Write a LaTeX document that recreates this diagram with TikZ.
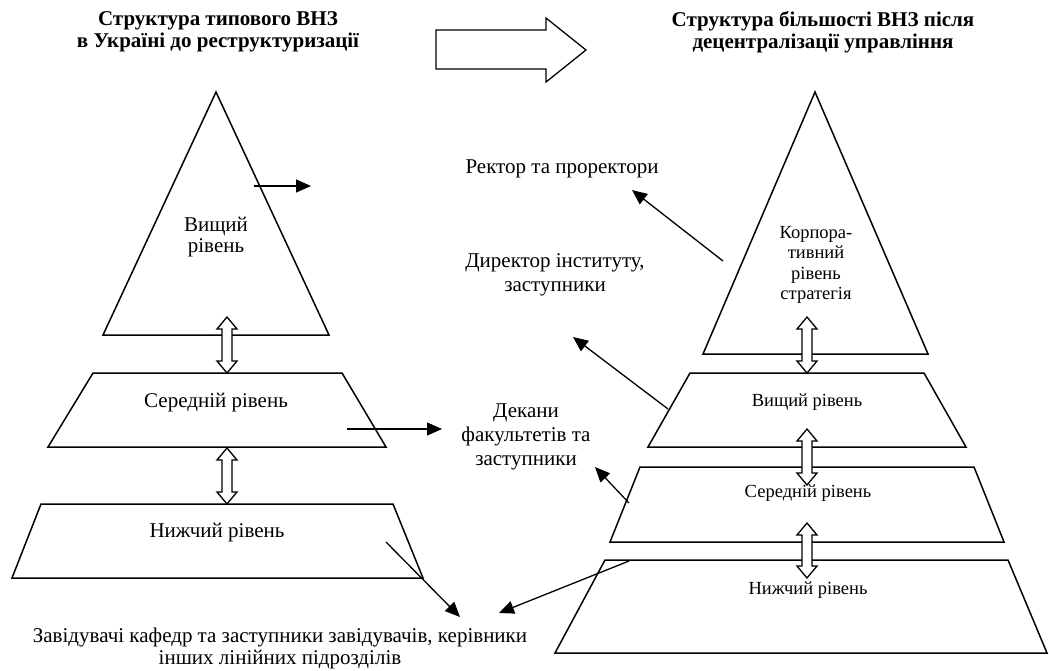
\documentclass[tikz,border=0pt]{standalone}
\usepackage{fontspec}
\setmainfont{Liberation Serif}
\usetikzlibrary{arrows.meta}
\newcommand\dblarr[3]{%
  \draw[blk] (#1,#2) -- (#1+10,#2+12) -- (#1+5,#2+12) -- (#1+5,#3-12) -- (#1+10,#3-12)
    -- (#1,#3) -- (#1-10,#3-12) -- (#1-5,#3-12) -- (#1-5,#2+12) -- (#1-10,#2+12) -- cycle;}
\begin{document}
\begin{tikzpicture}[x=1pt,y=-1pt,
  lvl/.style={draw, line width=1.5pt, line join=miter},
  conn/.style={line width=1.3pt, -{Triangle[length=15pt,width=13pt]}},
  blk/.style={draw, fill=white, line width=1.3pt, line join=miter},
  lbl/.style={font=\fontsize{21}{24}\selectfont, align=center, inner sep=0pt},
  rlbl/.style={font=\fontsize{18.5}{20.3}\selectfont, align=center, inner sep=0pt},
  ttl/.style={font=\bfseries\fontsize{21}{22}\selectfont, align=center, inner sep=0pt}]
\useasboundingbox (0,0) rectangle (1049,670);

% titles and big arrow
\node[ttl] (tl) at (218,32) {Структура типового ВНЗ\\в Україні до реструктуризації};
\node[ttl] (tr) at (823,32) {Структура більшості ВНЗ після\\децентралізації управління};
\draw[blk] (436,30) -- (546,30) -- (546,18) -- (586,50) -- (546,82) -- (546,69) -- (436,69) -- cycle;

% left pyramid
\draw[lvl] (216,92) -- (329,335) -- (103,335) -- cycle;
\draw[lvl] (93,373) -- (342,373) -- (386,447) -- (48,447) -- cycle;
\draw[lvl] (41,504) -- (393,504) -- (423,578) -- (12,578) -- cycle;
\node[lbl, font=\fontsize{21}{21}\selectfont] (lv1) at (216,237) {Вищий\\рівень};
\node[lbl] (lv2) at (216,403) {Середній рівень};
\node[lbl] (lv3) at (217,533) {Нижчий рівень};
\dblarr{227}{317}{373}
\dblarr{227}{448}{504}

% right pyramid
\draw[lvl] (815,92) -- (928,354) -- (703,354) -- cycle;
\draw[lvl] (690,373) -- (924,373) -- (966,447) -- (648,447) -- cycle;
\draw[lvl] (640,467) -- (974,467) -- (1004,542) -- (610,542) -- cycle;
\draw[lvl] (605,560) -- (1008,560) -- (1047,653) -- (555,653) -- cycle;
\node[rlbl] (rv0) at (816,265) {Корпора-\\тивний\\рівень\\стратегія};
\node[rlbl] (rv1) at (807,402) {Вищий рівень};
\node[rlbl] (rv2) at (808,493) {Середній рівень};
\node[rlbl] (rv3) at (808,590) {Нижчий рівень};
\dblarr{807}{317}{373}
\dblarr{807}{429}{485}
\dblarr{807}{523}{578}

% role labels
\node[lbl] (rect) at (562,169) {Ректор та проректори};
\node[lbl] (dir) at (555,275) {Директор інституту,\\заступники};
\node[lbl] (dek) at (526,437) {Декани\\факультетів та\\заступники};
\node[lbl, font=\fontsize{21}{22}\selectfont] (zav) at (280,648) {Завідувачі кафедр та заступники завідувачів, керівники\\інших лінійних підрозділів};

% connector ends
\coordinate (s1) at (254,186); \coordinate (e1) at (311,186);
\coordinate (s2) at (347,429); \coordinate (e2) at (442,429);
\coordinate (s3) at (386,542); \coordinate (e3) at (460,617);
\coordinate (s4) at (723,261); \coordinate (e4) at (632,190);
\coordinate (s5) at (668,409); \coordinate (e5) at (573,337);
\coordinate (s6) at (629,503); \coordinate (e6) at (595,467);
\coordinate (s7) at (629,561); \coordinate (e7) at (499,613);
\draw[conn] (s1) -- (e1);
\draw[conn] (s2) -- (e2);
\draw[conn] (s3) -- (e3);
\draw[conn] (s4) -- (e4);
\draw[conn] (s5) -- (e5);
\draw[conn] (s6) -- (e6);
\draw[conn] (s7) -- (e7);
\end{tikzpicture}
\end{document}
